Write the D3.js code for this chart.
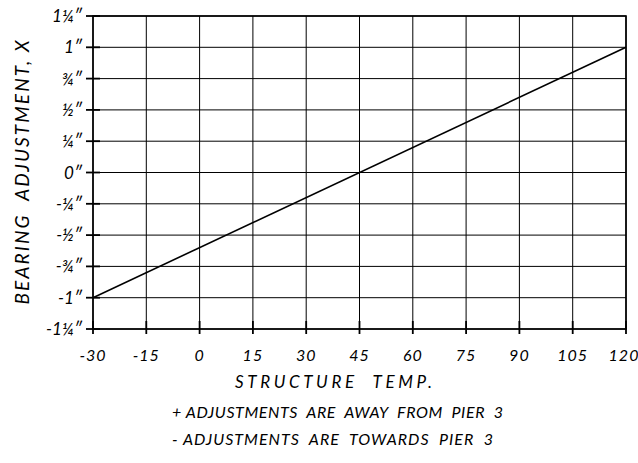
<!DOCTYPE html>
<html>
<head>
<meta charset="utf-8">
<script src="https://cdn.jsdelivr.net/npm/d3@7"></script>
<style>
  body { margin: 0; background: #fff; }
  svg text { font-family: Lato, "Liberation Sans", sans-serif; font-style: italic; font-weight: 400; fill: #000; }
</style>
</head>
<body>
<div id="chart"></div>
<script>
// temperatures on the x axis
var tempTicks = [-30, -15, 0, 15, 30, 45, 60, 75, 90, 105, 120];
// adjustment ticks (inches) and their labels
var adjTicks = [1.25, 1, 0.75, 0.5, 0.25, 0, -0.25, -0.5, -0.75, -1, -1.25];
var adjLabels = ['1¼″', '1″', '¾″', '½″', '¼″', '0″', '-¼″', '-½″', '-¾″', '-1″', '-1¼″'];
// the adjustment line
var lineTemp = [-30, 120];
var lineAdj = [-1, 1];
var notes = ['+ ADJUSTMENTS  ARE  AWAY  FROM  PIER  3', '- ADJUSTMENTS  ARE  TOWARDS  PIER  3'];

var width = 638, height = 463;
var pLeft = 93, pRight = 626, pTop = 16, pBottom = 329;

var svg = d3.select('#chart').append('svg')
    .attr('width', width)
    .attr('height', height);

var x = d3.scaleLinear().domain([-30, 120]).range([pLeft, pRight]);
var y = d3.scaleLinear().domain([-1.25, 1.25]).range([pBottom, pTop]);

// grid
svg.append('g').selectAll('line')
    .data(tempTicks)
    .enter().append('line')
    .attr('x1', d => x(d)).attr('x2', d => x(d))
    .attr('y1', pTop).attr('y2', pBottom)
    .attr('stroke', '#000').attr('stroke-width', 1);

svg.append('g').selectAll('line')
    .data(adjTicks)
    .enter().append('line')
    .attr('x1', pLeft).attr('x2', pRight)
    .attr('y1', d => y(d)).attr('y2', d => y(d))
    .attr('stroke', '#000').attr('stroke-width', 1);

// frame
svg.append('rect')
    .attr('x', pLeft).attr('y', pTop)
    .attr('width', pRight - pLeft).attr('height', pBottom - pTop)
    .attr('fill', 'none').attr('stroke', '#000').attr('stroke-width', 1.6);

// tick marks
svg.append('g').selectAll('line')
    .data(adjTicks)
    .enter().append('line')
    .attr('x1', pLeft - 7).attr('x2', pLeft + 7)
    .attr('y1', d => y(d)).attr('y2', d => y(d))
    .attr('stroke', '#000').attr('stroke-width', 1.8);

svg.append('g').selectAll('line')
    .data(tempTicks)
    .enter().append('line')
    .attr('x1', d => x(d)).attr('x2', d => x(d))
    .attr('y1', pBottom - 8).attr('y2', pBottom + 5)
    .attr('stroke', '#000').attr('stroke-width', 1.8);

// tick labels
svg.append('g').selectAll('text')
    .data(tempTicks)
    .enter().append('text')
    .attr('x', d => d == 120 ? x(d) - 2 : x(d))
    .attr('y', pBottom + 32)
    .attr('text-anchor', 'middle')
    .attr('font-size', 16)
    .attr('letter-spacing', 1)
    .text(d => d);

svg.append('g').selectAll('text')
    .data(adjTicks)
    .enter().append('text')
    .attr('x', pLeft - 11)
    .attr('y', d => y(d) + 6)
    .attr('text-anchor', 'end')
    .attr('font-size', 17)
    .text((d, i) => adjLabels[i]);

// adjustment line
var line = d3.line()
    .x(d => x(d[0]))
    .y(d => y(d[1]));

svg.append('path')
    .datum(lineTemp.map((t, i) => [t, lineAdj[i]]))
    .attr('d', line)
    .attr('fill', 'none')
    .attr('stroke', '#000')
    .attr('stroke-width', 1.6);

// titles
svg.append('text')
    .attr('transform', 'translate(29,' + ((pTop + pBottom) / 2) + ') rotate(-90)')
    .attr('text-anchor', 'middle')
    .attr('font-size', 19)
    .attr('textLength', 264)
    .attr('lengthAdjust', 'spacing')
    .style('white-space', 'pre')
    .text('BEARING  ADJUSTMENT, X');

svg.append('text')
    .attr('x', 235).attr('y', 388)
    .attr('font-size', 17)
    .attr('textLength', 197)
    .attr('lengthAdjust', 'spacing')
    .style('white-space', 'pre')
    .text('STRUCTURE  TEMP.');

svg.append('g').selectAll('text')
    .data(notes)
    .enter().append('text')
    .attr('x', 172)
    .attr('y', (d, i) => 418 + i * 27)
    .attr('font-size', 16)
    .attr('textLength', (d, i) => i == 0 ? 331 : 321)
    .attr('lengthAdjust', 'spacing')
    .style('white-space', 'pre')
    .text(d => d);
</script>
</body>
</html>
